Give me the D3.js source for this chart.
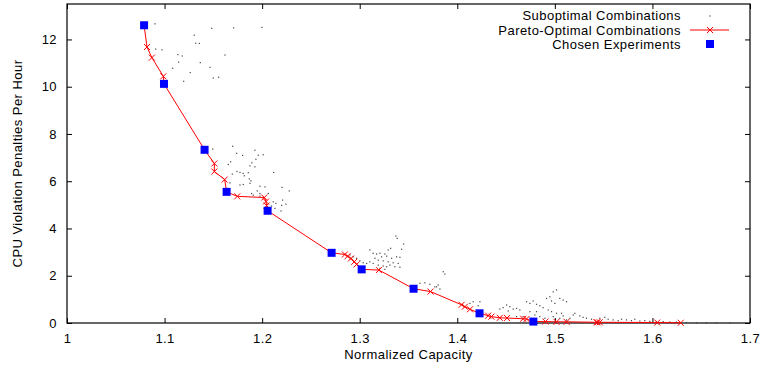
<!DOCTYPE html>
<html>
<head>
<meta charset="utf-8">
<script src="https://cdn.jsdelivr.net/npm/d3@7"></script>
<style>
body { margin: 0; background: #fff; }
svg { font-family: "Liberation Sans", Arial, sans-serif; }
</style>
</head>
<body>
<svg id="chart" width="760" height="370"></svg>
<script>
var xTicks = [1, 1.1, 1.2, 1.3, 1.4, 1.5, 1.6, 1.7],
	yTicks = [0, 2, 4, 6, 8, 10, 12];

// suboptimal combinations [capacity, penalty]
var suboptimal = [
	[1.0902,12.66],[1.1483,12.47],[1.1708,12.49],[1.1304,12.18],[1.1319,11.84],[1.1356,11.83],
	[1.0909,11.59],[1.0973,11.56],[1.1137,11.36],[1.1181,11.30],[1.1619,11.34],[1.1144,11.04],
	[1.1366,11.02],[1.1083,10.78],[1.1465,10.82],[1.1263,10.60],[1.1499,10.37],[1.1554,10.40],
	[1.1196,10.23],[1.1998,12.51],
	[1.1493,7.36],[1.1698,7.48],[1.1739,7.18],[1.18,7.09],[1.1926,7.31],[1.196,7.10],[1.2011,7.12],
	[1.1936,6.93],[1.1677,6.82],[1.1653,6.71],[1.1895,6.78],[1.1875,6.65],[1.1926,6.61],[1.1742,6.41],
	[1.1773,6.37],[1.1806,6.33],[1.1858,6.36],[1.1694,6.30],[1.1817,6.23],[1.2118,6.37],[1.1868,6.10],
	[1.1885,6.02],[1.1875,5.91],[1.1773,5.84],[1.1806,5.86],[1.1977,5.79],[1.2029,5.76],[1.2203,5.74],
	[1.2278,5.59],[1.167,5.93],[1.1892,5.48],[1.195,5.59],[1.1977,5.48],[1.1977,5.37],[1.1909,5.41],
	[1.2063,5.48],[1.2114,5.13],[1.2141,5.06],[1.221,5.20],[1.2244,5.03],[1.22,4.98],[1.2193,4.74],
	[1.2097,4.95],[1.2131,4.85],
	[1.3371,3.68],[1.3384,3.58],[1.345,3.34],[1.3317,3.16],[1.3292,3.09],[1.3429,3.12],[1.3104,3.09],
	[1.3138,2.95],[1.3173,2.92],[1.3207,2.95],[1.3258,2.92],[1.3224,2.80],[1.3276,2.83],[1.3327,2.74],
	[1.3378,2.80],[1.3412,2.78],[1.3156,2.74],[1.319,2.66],[1.3241,2.63],[1.3292,2.59],[1.3343,2.55],
	[1.3394,2.52],[1.3104,2.59],[1.3071,2.52],[1.3036,2.55],[1.3138,2.52],[1.319,2.45],[1.3241,2.41],
	[1.3276,2.38],[1.3309,2.45],[1.336,2.38],[1.3412,2.36],[1.3207,2.31],[1.3258,2.27],[1.29,2.88],
	[1.2933,2.80],[1.2968,2.74],[1.3002,2.63],[1.3856,2.17],[1.3873,2.07],[1.3617,1.68],[1.3668,1.70],
	[1.3719,1.64],[1.377,1.53],[1.3804,1.61],
	[1.3788,1.53],[1.3822,1.44],[1.4129,0.83],[1.4163,0.90],[1.4232,0.90],[1.4214,0.73],[1.4436,0.59],
	[1.447,0.65],[1.4505,0.76],[1.4539,0.69],[1.4573,0.59],[1.4607,0.62],[1.4641,0.55],[1.4522,0.51],
	[1.471,0.90],[1.4744,0.83],[1.4778,0.93],[1.4812,0.79],[1.4846,0.73],[1.488,0.65],[1.4915,1.04],
	[1.4949,1.11],[1.4983,1.32],[1.5017,1.40],[1.5051,1.04],[1.5085,0.97],[1.512,0.90],[1.4966,0.93],
	[1.5,0.83],[1.4932,0.55],[1.4966,0.48],[1.5017,0.41],[1.4795,0.34],[1.4846,0.27],[1.4898,0.20],
	[1.5051,0.20],[1.4675,0.27],[1.4607,0.27],[1.4744,0.48],[1.4812,0.48],[1.4983,0.27],
	[1.5068,0.41],[1.5085,0.30],[1.5188,0.34],[1.5205,0.41],[1.5256,0.30],[1.529,0.24],[1.5324,0.20],
	[1.5375,0.16],[1.5461,0.20],[1.5512,0.24],[1.5546,0.16],[1.5597,0.13],[1.5649,0.10],[1.5683,0.16],
	[1.5734,0.13],[1.5785,0.10],[1.5819,0.16],[1.5871,0.08],[1.5922,0.10],[1.5973,0.07],[1.6042,0.06],
	[1.611,0.06],[1.6178,0.04],[1.6247,0.04],[1.6349,0.01],[1.6452,0.01],[1.6554,0.01],[1.6657,0.01],
	[1.6793,0.01],[1.512,0.13],[1.5154,0.20]
];

// pareto-optimal front, sorted by capacity
var pareto = [
	[1.079,12.6],[1.082,11.68],[1.087,11.23],[1.0987,10.44],[1.0994,10.12],[1.141,7.33],
	[1.151,6.75],[1.151,6.41],[1.1616,6.07],[1.1636,5.55],[1.1745,5.36],[1.2022,5.31],
	[1.204,5.14],[1.2046,4.97],[1.2056,4.75],[1.2712,2.97],[1.2848,2.9],[1.2876,2.83],
	[1.291,2.73],[1.2944,2.59],[1.2968,2.48],[1.302,2.27],[1.3197,2.24],[1.3552,1.45],
	[1.3726,1.33],[1.4044,0.77],[1.4078,0.69],[1.413,0.58],[1.4228,0.41],[1.4317,0.31],
	[1.435,0.27],[1.4436,0.22],[1.451,0.21],[1.4675,0.18],[1.471,0.17],[1.478,0.06],
	[1.4904,0.06],[1.5017,0.05],[1.512,0.05],[1.5427,0.03],[1.5437,0.03],[1.546,0.03],
	[1.605,0.02],[1.629,0.01]
];

// chosen experiments
var chosen = [
	[1.079,12.6],[1.0994,10.12],[1.141,7.33],[1.1636,5.55],[1.2056,4.75],
	[1.2712,2.97],[1.302,2.27],[1.3552,1.45],[1.4228,0.41],[1.478,0.06]
];

var margin = {left: 67, right: 10, top: 4, bottom: 47},
	svg = d3.select("#chart"),
	width = +svg.attr("width") - margin.left - margin.right,
	height = +svg.attr("height") - margin.top - margin.bottom;

var x = d3.scaleLinear().domain([1, 1.7]).range([0, width]),
	y = d3.scaleLinear().domain([0, 13.5]).range([height, 0]);

var g = svg.append("g")
	.attr("transform", "translate("+margin.left+","+margin.top+")");

//axes with inward ticks, mirrored on top and right
var tickStyle = function(sel) {
	sel.select(".domain").remove();
	sel.selectAll("line").attr("stroke", "#000");
	sel.selectAll("text").attr("fill", "#000")
		.style("font-size", "13px").style("letter-spacing", "0.4px");
};
g.append("g")
	.attr("transform", "translate(0,"+height+")")
	.call(d3.axisBottom(x).tickValues(xTicks).tickSizeInner(-5).tickSizeOuter(0).tickPadding(11)
		.tickFormat(function(d) { return d3.format("")(+d.toFixed(1)); }))
	.call(tickStyle);
g.append("g")
	.call(d3.axisTop(x).tickValues(xTicks).tickSizeInner(-5).tickSizeOuter(0).tickFormat(""))
	.call(tickStyle);
g.append("g")
	.call(d3.axisLeft(y).tickValues(yTicks).tickSizeInner(-5).tickSizeOuter(0).tickPadding(10))
	.call(tickStyle);
g.append("g")
	.attr("transform", "translate("+width+",0)")
	.call(d3.axisRight(y).tickValues(yTicks).tickSizeInner(-5).tickSizeOuter(0).tickFormat(""))
	.call(tickStyle);

g.append("rect")
	.attr("width", width)
	.attr("height", height)
	.attr("fill", "none")
	.attr("stroke", "#000")
	.attr("stroke-width", 1.2);

//axis titles
svg.append("text")
	.attr("x", margin.left + width/2)
	.attr("y", 359)
	.attr("text-anchor", "middle")
	.style("font-size", "13px")
	.style("letter-spacing", "0.45px")
	.text("Normalized Capacity");
svg.append("text")
	.attr("transform", "translate(22,"+(margin.top + height/2)+") rotate(-90)")
	.attr("text-anchor", "middle")
	.style("font-size", "13px")
	.style("letter-spacing", "0.45px")
	.text("CPU Violation Penalties Per Hour");

//suboptimal dots
g.append("g").selectAll("rect")
	.data(suboptimal)
	.enter()
	.append("rect")
	.attr("x", function(d) { return x(d[0]) - 0.6; })
	.attr("y", function(d) { return y(d[1]) - 0.6; })
	.attr("width", 1.2)
	.attr("height", 1.2)
	.attr("fill", "#444");

//pareto line with x markers
g.append("path")
	.datum(pareto)
	.attr("fill", "none")
	.attr("stroke", "#f00")
	.attr("stroke-width", 1)
	.attr("d", d3.line().x(function(d) { return x(d[0]); }).y(function(d) { return y(d[1]); }));
var cross = "M-3,-3L3,3M-3,3L3,-3";
g.append("g").selectAll("path")
	.data(pareto)
	.enter()
	.append("path")
	.attr("transform", function(d) { return "translate("+x(d[0])+","+y(d[1])+")"; })
	.attr("d", cross)
	.attr("stroke", "#f00")
	.attr("stroke-width", 1)
	.attr("fill", "none");

//chosen experiments
g.append("g").selectAll("rect")
	.data(chosen)
	.enter()
	.append("rect")
	.attr("x", function(d) { return x(d[0]) - 4; })
	.attr("y", function(d) { return y(d[1]) - 4; })
	.attr("width", 8)
	.attr("height", 8)
	.attr("fill", "#00f");

//legend
var legend = svg.append("g").attr("transform", "translate(681,0)");
var labels = ["Suboptimal Combinations", "Pareto-Optimal Combinations", "Chosen Experiments"];
legend.selectAll("text")
	.data(labels)
	.enter()
	.append("text")
	.attr("y", function(d, i) { return 15.5 + i*14.6; })
	.attr("dy", "0.35em")
	.attr("text-anchor", "end")
	.style("font-size", "13px")
	.style("letter-spacing", "0.45px")
	.text(function(d) { return d; });
legend.append("rect")
	.attr("x", 28.4).attr("y", 15.4).attr("width", 1.2).attr("height", 1.2).attr("fill", "#444");
legend.append("line")
	.attr("x1", 9).attr("x2", 48).attr("y1", 30).attr("y2", 30)
	.attr("stroke", "#f00");
legend.append("path")
	.attr("transform", "translate(29,30)")
	.attr("d", cross)
	.attr("stroke", "#f00")
	.attr("fill", "none");
legend.append("rect")
	.attr("x", 25).attr("y", 40).attr("width", 8).attr("height", 8).attr("fill", "#00f");
</script>
</body>
</html>
